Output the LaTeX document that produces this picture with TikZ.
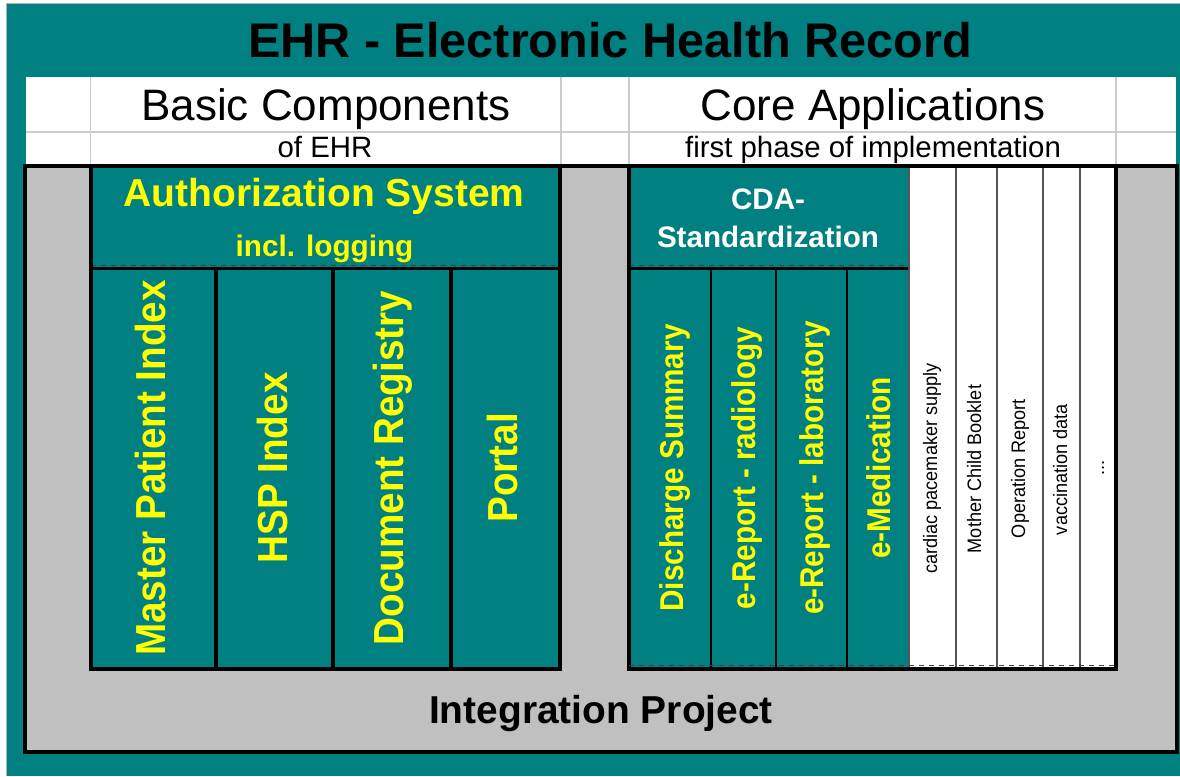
\documentclass[tikz,border=0pt]{standalone}
\usepackage{fontspec}
\setmainfont{Liberation Sans}
\definecolor{ehrteal}{HTML}{008080}
\definecolor{ehrgray}{HTML}{C0C0C0}
\definecolor{ehryellow}{HTML}{FFFF00}
\definecolor{gridgray}{HTML}{CCCCCC}
\definecolor{sepgray}{HTML}{555555}
\newcommand\fs[1]{\fontsize{#1}{#1}\selectfont}
\newcommand\hsq[2]{\scalebox{#1}[1]{#2}}
\begin{document}
\begin{tikzpicture}[x=1pt,y=-1pt,
  every node/.style={inner sep=0pt, outer sep=0pt},
  bigv/.style={rotate=90, anchor=base, text=ehryellow, font=\bfseries\fs{42}},
  midv/.style={rotate=90, anchor=base, text=ehryellow, font=\bfseries\fs{33}},
  smallv/.style={rotate=90, anchor=base, text=black, font=\fs{19.5}},
  gridline/.style={draw=gridgray, line width=1.5pt},
  blockborder/.style={draw=black, line width=4pt},
  blacksep/.style={draw=black, line width=4pt},
  tealsep/.style={draw=black, line width=2pt},
  whitesep/.style={draw=sepgray, line width=2pt},
  tickline/.style={draw=black!75, line width=1pt, dash pattern=on 5pt off 5pt}
]
\useasboundingbox (0,0) rectangle (1180,776);
% background
\fill[white] (0,0) rectangle (1180,776);
\fill[ehrteal] (7,3.5) rectangle (1180,776);
\draw[draw=gray!60, line width=1pt] (6.8,776) -- (6.8,3.3) -- (1180,3.3);
% header area
\fill[white] (26,77) rectangle (1176,166);
\draw[gridline] (26,132) -- (1176,132);
\foreach \gx in {90.5,561,629,1116}{\draw[gridline] (\gx,77) -- (\gx,166);}
% integration frame
\filldraw[fill=ehrgray, blockborder] (25.3,166) rectangle (1176.5,752);
% left block
\fill[ehrteal] (90.5,166) rectangle (560,669);
\draw[line width=2.5pt] (90.5,268.5) -- (560,268.5);
\draw[tickline] (90.5,265.5) -- (560,265.5);
\foreach \sx in {216,333,451}{\draw[blacksep] (\sx,268.5) -- (\sx,669);}
\draw[blockborder] (90.5,166) rectangle (560,669);
% right block
\fill[ehrteal] (629,166) rectangle (909,668.5);
\fill[white] (909,166) rectangle (1115.5,668.5);
\draw[line width=2.5pt] (629,268.5) -- (909,268.5);
\draw[tickline] (629,265.5) -- (909,265.5);
\foreach \sx in {711,776,846.5}{\draw[tealsep] (\sx,268.5) -- (\sx,668.5);}
\foreach \sx in {909,956,997,1042.5,1079.5}{\draw[whitesep] (\sx,166) -- (\sx,668.5);}
\draw[blockborder] (629,166) rectangle (1115.5,668.5);
\draw[tickline] (629,665.5) -- (1115.5,665.5);
% texts
\node[anchor=base, font=\bfseries\fs{48.6}] (title) at (610,58) {EHR - Electronic Health Record};
\node[anchor=base, font=\fs{44}] (basic) at (326,120) {Basic Components};
\node[anchor=base, font=\fs{44}] (core) at (873,120) {Core Applications};
\node[anchor=base, font=\fs{29.4}] (ofehr) at (325,157) {of EHR};
\node[anchor=base, font=\fs{29.4}] (phase) at (873,157) {first phase of implementation};
\node[anchor=base, text=ehryellow, font=\bfseries\fs{39}] (auth) at (324,206) {Authorization System};
\node[anchor=base, text=ehryellow, font=\bfseries\fs{29.7}] (logging) at (324.5,256) {incl. logging};
\node[anchor=base, text=white, font=\bfseries\fs{29.6}] (cda) at (768,209) {CDA-};
\node[anchor=base, text=white, font=\bfseries\fs{29.6}] (std) at (768,247) {Standardization};
\node[anchor=base, font=\bfseries\fs{38.9}] (integ) at (601,723) {Integration Project};
% left vertical labels
\node[bigv] (mpi) at (165,468) {\hsq{0.92}{Master Patient Index}};
\node[bigv] (hsp) at (287,468) {\hsq{0.92}{HSP Index}};
\node[bigv] (docreg) at (403,468) {\hsq{0.92}{Document Registry}};
\node[bigv] (portal) at (517,468) {\hsq{0.92}{Portal}};
% right vertical labels
\node[midv] (disch) at (683,468) {\hsq{0.9}{Discharge Summary}};
\node[midv] (radio) at (755,468) {\hsq{0.9}{e-Report - radiology}};
\node[midv] (labor) at (823,468) {\hsq{0.9}{e-Report - laboratory}};
\node[midv] (emed) at (890,468) {\hsq{0.9}{e-Medication}};
\node[smallv] (cardiac) at (937,468.5) {\hsq{0.93}{cardiac pacemaker supply}};
\node[smallv] (mother) at (981,469) {\hsq{0.93}{Mother Child Booklet}};
\node[smallv] (oprep) at (1025,468.5) {\hsq{0.93}{Operation Report}};
\node[smallv] (vacc) at (1067,469.5) {\hsq{0.93}{vaccination data}};
\node[smallv] (dots) at (1104,468) {\hsq{0.93}{...}};
\end{tikzpicture}
\end{document}
